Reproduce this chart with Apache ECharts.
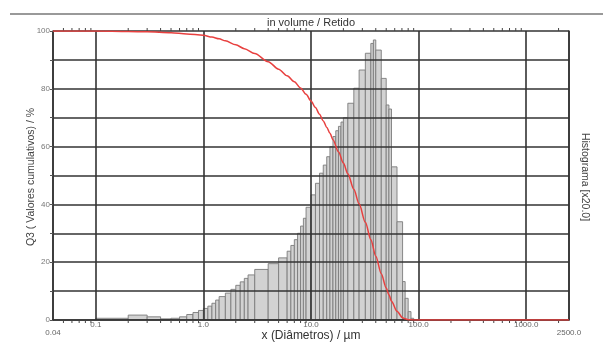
<!DOCTYPE html>
<html><head><meta charset="utf-8">
<script src="https://cdn.jsdelivr.net/npm/echarts@6/dist/echarts.min.js"></script>
<style>html,body{margin:0;padding:0;background:#fff}#c{width:603px;height:342px}</style>
</head><body><div id="c"></div>
<script>
// Histogram class edges (µm) and bar heights (left scale units)
const binEdges = [0.04,0.07,0.1,0.2,0.3,0.4,0.5,0.6,0.7,0.8,0.9,1.0,1.1,1.2,1.3,1.4,1.6,1.8,2.0,2.2,2.4,2.6,3.0,4.0,5.0,6.0,6.5,7.0,7.5,8.0,8.5,9.0,10,11,12,13,14,15,16,17,18,19,20,22,25,28,32,36,38,40,45,50,53,56,63,71,75,80,85,90,95,100];
const histHeights = [0,0,0.6,1.7,1.1,0.4,0.6,1.1,1.9,2.6,3.3,4.0,4.8,5.8,6.9,8.1,9.3,10.6,12.0,13.2,14.4,15.6,17.5,19.5,21.5,23.8,25.8,27.8,30.0,32.5,35.2,39.0,43.3,47.3,50.8,53.6,56.5,60.0,63.5,65.5,67.0,68.5,70.0,75.0,80.2,86.5,92.3,95.7,96.9,93.4,83.6,74.4,73.0,53.0,34.0,13.3,7.5,2.9,0.6,0,0];
// Cumulative (retained) curve
const curveX = [0.04,0.1,0.2,0.3,0.5,0.7,1.0,1.2,1.4,1.6,2.0,2.4,3.0,4.0,5.0,6.0,7.0,8.0,9.0,10,11,12,13,14,15,16,18,20,22,25,28,32,36,40,45,50,53,56,63,71,75,80,90,100,2500];
const curveY = [100,100,99.85,99.7,99.4,99.0,98.5,97.9,97.3,96.6,95.2,93.9,92.2,89.4,86.8,84.5,82.4,80.3,78.1,75.8,73.5,71.2,68.9,66.7,64.6,62.4,58.2,54.3,50.6,45.2,40.2,33.8,27.8,22.1,16.0,11.1,8.7,6.5,3.0,0.8,0.4,0.12,0.01,0,0];
// Tick labels
const xTickValues = [0.04,0.1,1,10,100,1000,2500];
const xTickTexts = ['0.04','0.1','1.0','10.0','100.0','1000.0','2500.0'];
const yTickLabels = [0,20,40,60,80,100];

const FONT = 'Liberation Sans, Arial, sans-serif';
const histData = histHeights.map((h,i)=>[binEdges[i], binEdges[i+1], h]);
const curveData = curveX.map((x,i)=>[x, curveY[i]]);
const minorTicks = [];
[0.01,0.1,1,10,100,1000].forEach(d=>{ for(let m=2;m<=9;m++){ const v=+(m*d).toPrecision(6); if(v>0.04 && v<2500) minorTicks.push([v]); } });

function xLabel(v){
  let best=0, bd=1e9;
  xTickValues.forEach((t,i)=>{ const d=Math.abs(Math.log10(v)-Math.log10(t)); if(d<bd){bd=d;best=i;} });
  if(bd>0.01) return '';
  const txt = xTickTexts[best];
  return (best===0 || best===xTickValues.length-1) ? '{e|'+txt+'}' : txt;
}

const chart = echarts.init(document.getElementById('c'), null, {renderer:'canvas'});
chart.setOption({
  animation:false,
  backgroundColor:'#fff',
  grid:{left:53, right:34, top:31, bottom:22, containLabel:false},
  xAxis:{type:'log', logBase:10, min:0.04, max:2500, z:5,
    axisLine:{show:true, lineStyle:{color:'#333', width:1.5}},
    axisTick:{show:false},
    axisLabel:{fontSize:8, color:'#666', fontFamily:FONT, margin:1, showMinLabel:true, showMaxLabel:true,
      formatter:xLabel, rich:{e:{fontSize:8, color:'#666', fontFamily:FONT, padding:[8,0,0,0]}}},
    splitLine:{show:true, lineStyle:{color:'#333', width:1.6}}},
  yAxis:[{type:'value', min:0, max:100, interval:10, position:'left', z:5,
    axisLine:{show:true, lineStyle:{color:'#333', width:1.5}},
    axisTick:{show:true, length:3, lineStyle:{color:'#555'}},
    axisLabel:{fontSize:8, color:'#777', fontFamily:FONT, margin:3,
      formatter:v=>yTickLabels.includes(v)?String(v):''},
    splitLine:{show:true, lineStyle:{color:'#333', width:1.6}}},
   {type:'value', min:0, max:100, position:'right', z:5,
    axisLine:{show:true, lineStyle:{color:'#333', width:1.5}},
    axisTick:{show:false}, axisLabel:{show:false}, splitLine:{show:false}}],
  graphic:[
    {type:'line', shape:{x1:10,y1:14,x2:603,y2:14}, style:{stroke:'#999', lineWidth:2}},
    {type:'text', x:311, y:23, style:{text:'in volume / Retido', fontSize:11, fontFamily:FONT, fill:'#333', align:'center', verticalAlign:'middle'}},
    {type:'text', x:31, y:177, rotation:Math.PI/2, style:{text:'Q3 ( Valores cumulativos) / %', fontSize:10.5, fontFamily:FONT, fill:'#444', align:'center', verticalAlign:'middle'}},
    {type:'text', x:585, y:177, rotation:-Math.PI/2, style:{text:'Histograma [x20.0]', fontSize:10.5, fontFamily:FONT, fill:'#444', align:'center', verticalAlign:'middle'}},
    {type:'text', x:311, y:336, style:{text:'x (Diâmetros) / µm', fontSize:12, fontFamily:FONT, fill:'#333', align:'center', verticalAlign:'middle'}}
  ],
  series:[
    {type:'custom', name:'hist', z:1, clip:true, data:histData, encode:{x:[0,1], y:2},
     renderItem:(params, api)=>{
       const x0=api.value(0), x1=api.value(1), h=api.value(2);
       if(!(h>0)) return null;
       const p0=api.coord([x0,h]), p1=api.coord([x1,0]);
       return {type:'rect', shape:{x:p0[0], y:p0[1], width:p1[0]-p0[0], height:p1[1]-p0[1]},
         style:{fill:'#d2d2d2', stroke:'#7c7c7c', lineWidth:0.9}};
     }},
    {type:'custom', name:'minor', z:6, clip:false, data:minorTicks, encode:{x:0},
     renderItem:(params, api)=>{
       const v=api.value(0);
       const b=api.coord([v,0]), t=api.coord([v,100]);
       return {type:'group', children:[
         {type:'line', shape:{x1:b[0],y1:b[1],x2:b[0],y2:b[1]+3}, style:{stroke:'#444', lineWidth:1}},
         {type:'line', shape:{x1:t[0],y1:t[1],x2:t[0],y2:t[1]-3}, style:{stroke:'#444', lineWidth:1}}
       ]};
     }},
    {type:'line', name:'Q3', z:10, data:curveData, showSymbol:false, symbol:'none', smooth:0.3, smoothMonotone:'x',
     lineStyle:{color:'#e8403f', width:1.5}, itemStyle:{color:'#e8403f'}}
  ]
});
</script></body></html>
